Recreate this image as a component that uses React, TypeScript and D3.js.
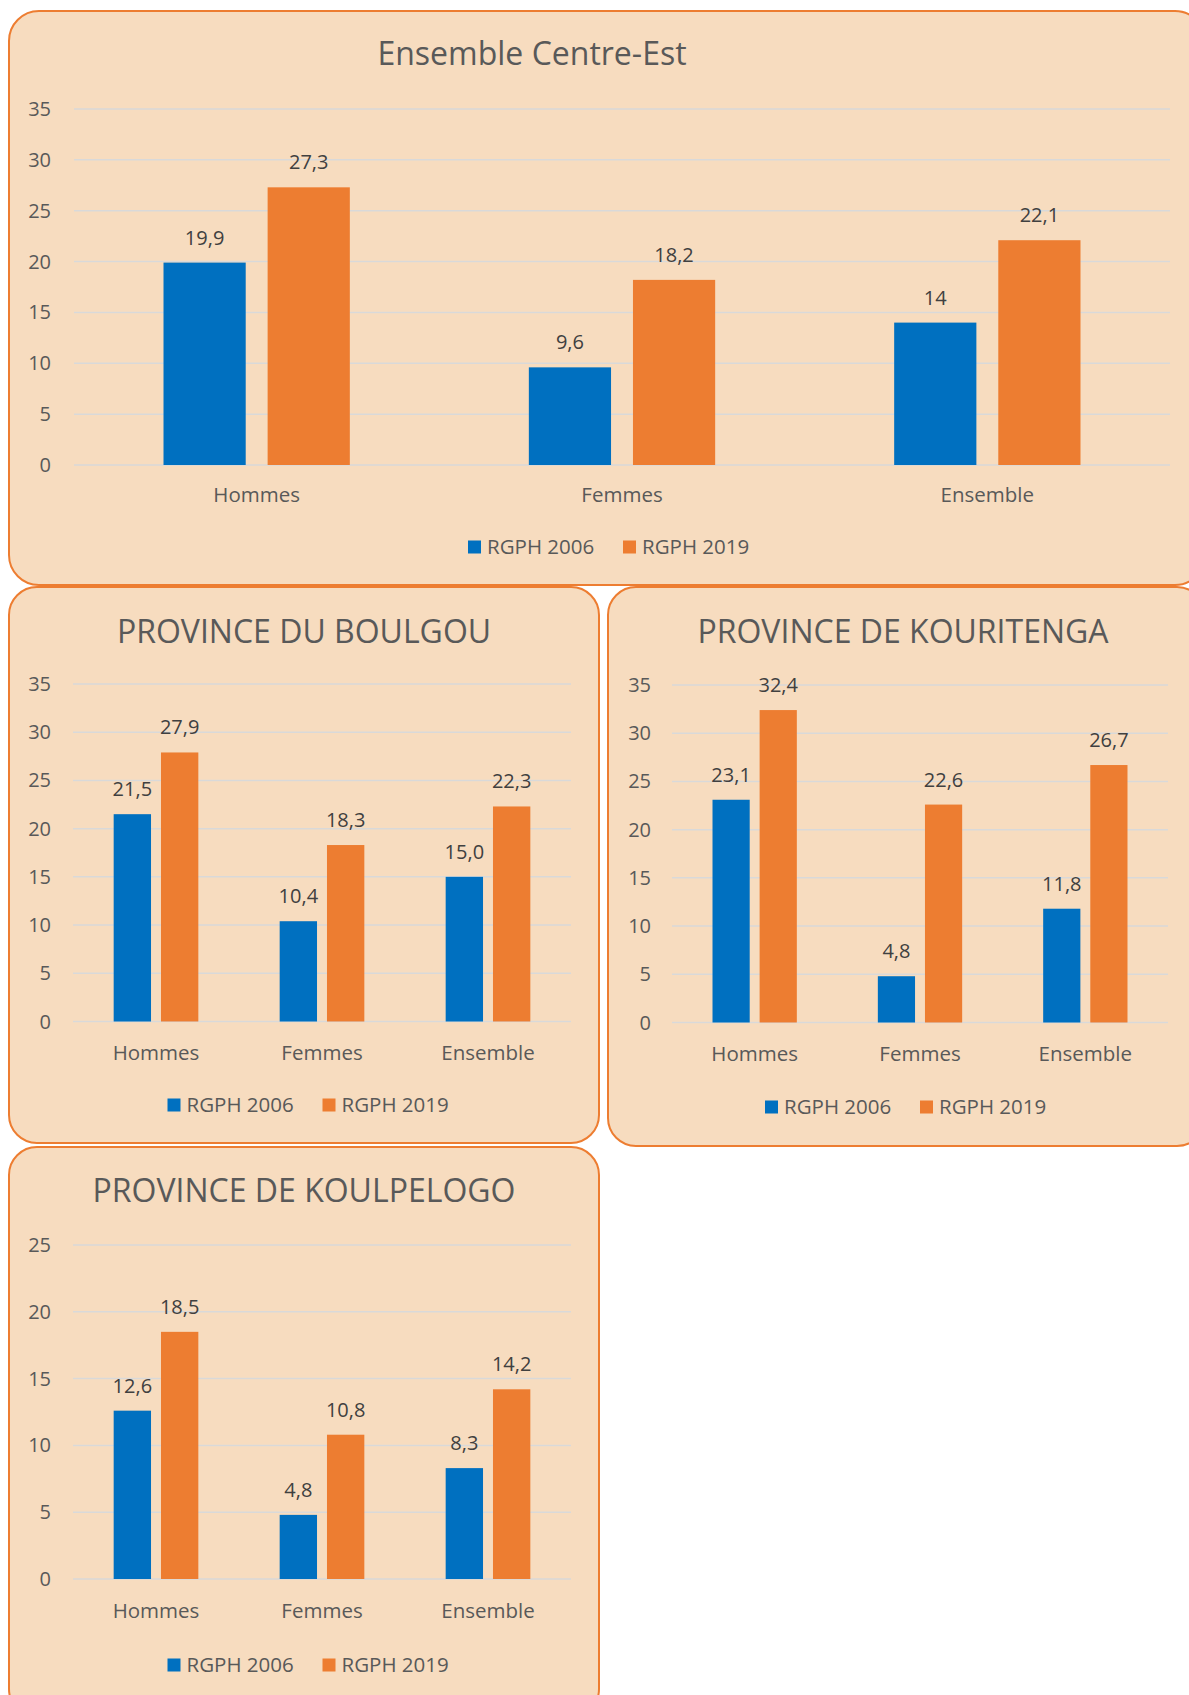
import React, { useEffect } from "react";
import * as d3 from "d3";

const categories = ["Hommes", "Femmes", "Ensemble"];
const seriesNames = ["RGPH 2006", "RGPH 2019"];
const seriesColors = ["#0070C0", "#ED7D31"];

const centreEst2006 = [19.9, 9.6, 14];
const centreEst2019 = [27.3, 18.2, 22.1];
const boulgou2006 = [21.5, 10.4, 15.0];
const boulgou2019 = [27.9, 18.3, 22.3];
const kouritenga2006 = [23.1, 4.8, 11.8];
const kouritenga2019 = [32.4, 22.6, 26.7];
const koulpelogo2006 = [12.6, 4.8, 8.3];
const koulpelogo2019 = [18.5, 10.8, 14.2];

const ticks35 = [0, 5, 10, 15, 20, 25, 30, 35];
const ticks25 = [0, 5, 10, 15, 20, 25];

const fmtGeneral = (v: number) => String(v).replace(".", ",");
const fmtOne = (v: number) => v.toFixed(1).replace(".", ",");

const FONT = "'Open Sans', 'Noto Sans', sans-serif";
const BG = "#F7DCBF";
const BORDER = "#ED7D31";
const GRID = "#D9D9D9";
const AXIS_TEXT = "#595959";
const LABEL_TEXT = "#404040";

type PanelCfg = {
  title: string;
  s2006: number[];
  s2019: number[];
  ticks: number[];
  fmt: (v: number) => string;
  box: { x: number; y: number; w: number; h: number; r: number };
  titleX: number;
  titleY: number;
  plotX0: number;
  plotX1: number;
  yTop: number;
  yBottom: number;
  tickRight: number;
  catY: number;
  legendX: number;
  legendY: number;
};

const panels: PanelCfg[] = [
  {
    title: "Ensemble Centre-Est",
    s2006: centreEst2006,
    s2019: centreEst2019,
    ticks: ticks35,
    fmt: fmtGeneral,
    box: { x: 9, y: 11, w: 1196, h: 574, r: 30 },
    titleX: 532,
    titleY: 54,
    plotX0: 74,
    plotX1: 1170,
    yTop: 109,
    yBottom: 465,
    tickRight: 51,
    catY: 495,
    legendX: 468,
    legendY: 547,
  },
  {
    title: "PROVINCE DU BOULGOU",
    s2006: boulgou2006,
    s2019: boulgou2019,
    ticks: ticks35,
    fmt: fmtOne,
    box: { x: 9, y: 587, w: 590, h: 556, r: 28 },
    titleX: 304,
    titleY: 632,
    plotX0: 73,
    plotX1: 571,
    yTop: 684,
    yBottom: 1021.5,
    tickRight: 51,
    catY: 1053,
    legendX: 167.5,
    legendY: 1105,
  },
  {
    title: "PROVINCE DE KOURITENGA",
    s2006: kouritenga2006,
    s2019: kouritenga2019,
    ticks: ticks35,
    fmt: fmtOne,
    box: { x: 608, y: 587, w: 597, h: 559, r: 28 },
    titleX: 903,
    titleY: 632,
    plotX0: 672,
    plotX1: 1168,
    yTop: 685,
    yBottom: 1022.5,
    tickRight: 651,
    catY: 1054,
    legendX: 765,
    legendY: 1107,
  },
  {
    title: "PROVINCE DE KOULPELOGO",
    s2006: koulpelogo2006,
    s2019: koulpelogo2019,
    ticks: ticks25,
    fmt: fmtOne,
    box: { x: 9, y: 1147, w: 590, h: 570, r: 28 },
    titleX: 304,
    titleY: 1191,
    plotX0: 73,
    plotX1: 571,
    yTop: 1245,
    yBottom: 1579,
    tickRight: 51,
    catY: 1611,
    legendX: 167.5,
    legendY: 1665,
  },
];

function Panel({ cfg }: { cfg: PanelCfg }) {
  const maxTick = cfg.ticks[cfg.ticks.length - 1];
  const y = d3.scaleLinear().domain([0, maxTick]).range([cfg.yBottom, cfg.yTop]);
  const x0 = d3.scaleBand<string>().domain(categories).range([cfg.plotX0, cfg.plotX1]).padding(0);
  const W = x0.bandwidth();
  const barFrac = 0.225;
  const gapFrac = 0.06;
  const step = barFrac + gapFrac;
  const pInner = gapFrac / step;
  const pOuter = (1 / step - (2 - pInner)) / 2;
  const x1 = d3.scaleBand<string>().domain(seriesNames).range([0, W]).paddingInner(pInner).paddingOuter(pOuter);
  const series = [cfg.s2006, cfg.s2019];
  const b = cfg.box;
  return (
    <g>
      <rect x={b.x} y={b.y} width={b.w} height={b.h} rx={b.r} ry={b.r} fill={BG} stroke={BORDER} strokeWidth={2} />
      <text x={cfg.titleX} y={cfg.titleY} dy="0.35em" textAnchor="middle" fontSize={32} fill={AXIS_TEXT} fontFamily={FONT}>
        {cfg.title}
      </text>
      {cfg.ticks.map((t) => (
        <g key={t}>
          <line x1={cfg.plotX0} x2={cfg.plotX1} y1={y(t)} y2={y(t)} stroke={GRID} strokeWidth={1.5} />
          <text x={cfg.tickRight} y={y(t)} dy="0.35em" textAnchor="end" fontSize={20} fill={AXIS_TEXT} fontFamily={FONT}>
            {t}
          </text>
        </g>
      ))}
      {categories.map((c, ci) => (
        <g key={c}>
          {series.map((s, si) => {
            const bx = (x0(c) as number) + (x1(seriesNames[si]) as number);
            const bw = x1.bandwidth();
            const top = y(s[ci]);
            return (
              <g key={si}>
                <rect x={bx} y={top} width={bw} height={y(0) - top} fill={seriesColors[si]} />
                <text x={bx + bw / 2} y={top - 25} dy="0.35em" textAnchor="middle" fontSize={20} fill={LABEL_TEXT} fontFamily={FONT}>
                  {cfg.fmt(s[ci])}
                </text>
              </g>
            );
          })}
          <text x={(x0(c) as number) + W / 2} y={cfg.catY} dy="0.35em" textAnchor="middle" fontSize={20.5} fill={AXIS_TEXT} fontFamily={FONT}>
            {c}
          </text>
        </g>
      ))}
      {seriesNames.map((n, i) => (
        <g key={n} transform={`translate(${cfg.legendX + i * 155},${cfg.legendY})`}>
          <rect x={0} y={-6.5} width={13} height={13} fill={seriesColors[i]} />
          <text x={19} y={0} dy="0.35em" fontSize={20.5} fill={AXIS_TEXT} fontFamily={FONT}>
            {n}
          </text>
        </g>
      ))}
    </g>
  );
}

export default function App() {
  useEffect(() => {
    document.body.style.margin = "0";
  }, []);
  return (
    <div style={{ position: "absolute", left: 0, top: 0 }}>
      <svg width={1189} height={1695} style={{ display: "block", background: "#ffffff" }}>
        {panels.map((p, i) => (
          <Panel key={i} cfg={p} />
        ))}
      </svg>
    </div>
  );
}
